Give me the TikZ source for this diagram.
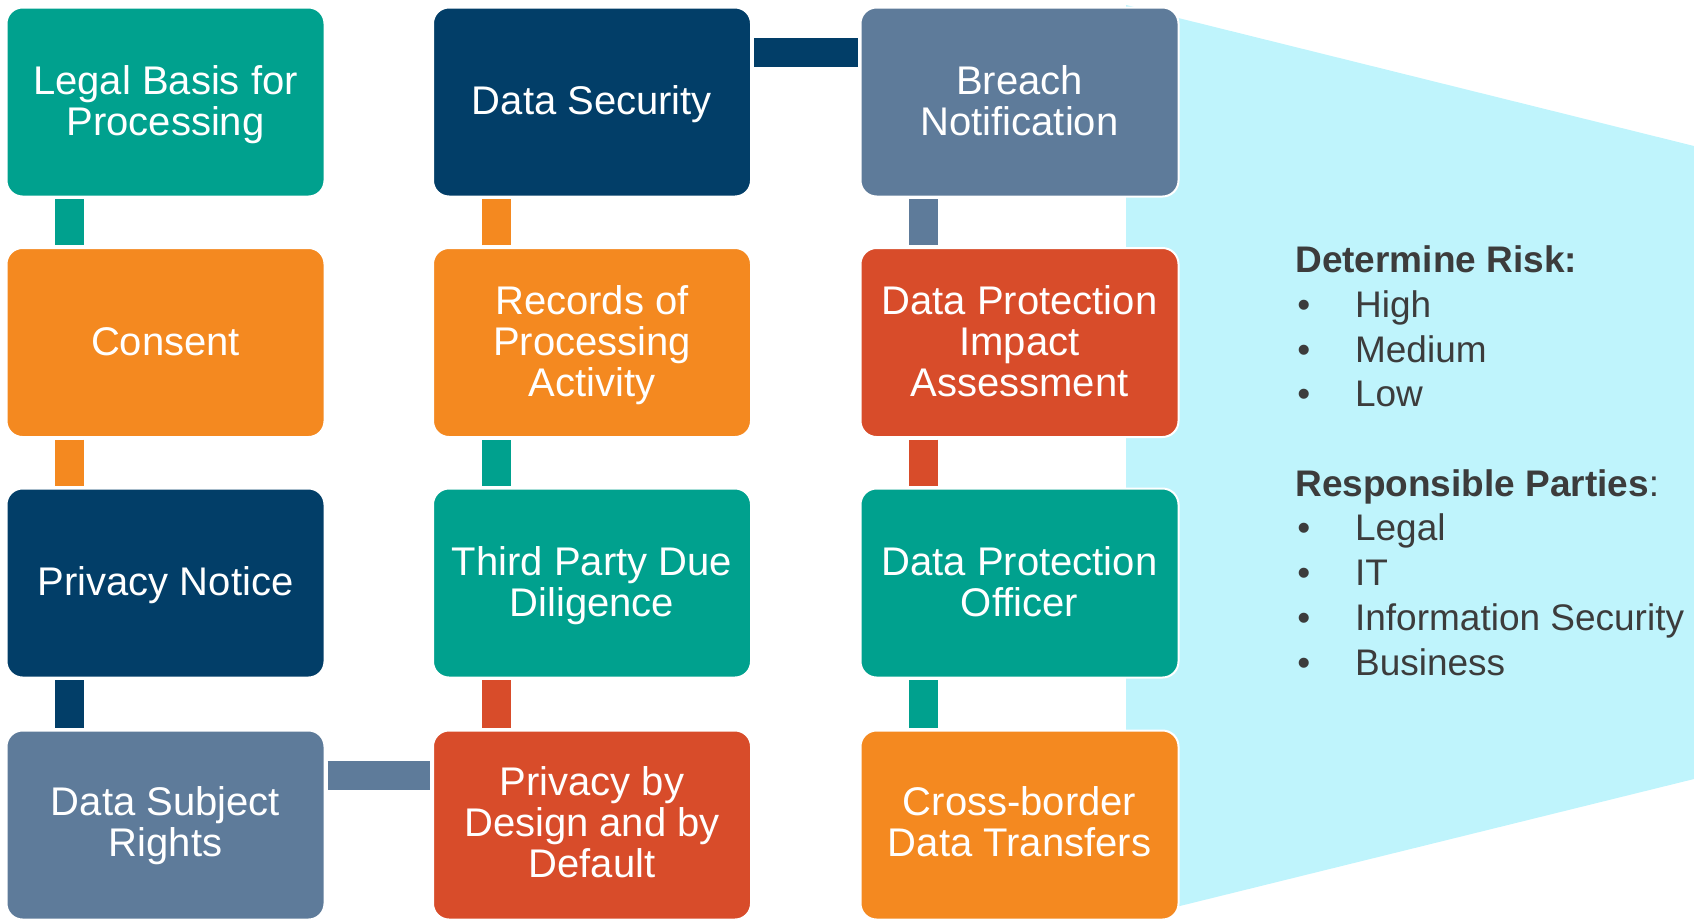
\documentclass[tikz,border=0pt]{standalone}
\usepackage{fontspec}
\setmainfont{Liberation Sans}
\usetikzlibrary{calc}

\definecolor{gteal}{RGB}{0,161,142}
\definecolor{gorange}{RGB}{244,137,32}
\definecolor{gnavy}{RGB}{2,62,104}
\definecolor{gslate}{RGB}{94,123,154}
\definecolor{gred}{RGB}{216,76,42}
\definecolor{gcyan}{RGB}{191,244,252}
\definecolor{gtext}{RGB}{60,60,60}

% one drawing unit = 0.75pt
\newdimen\unitpx \unitpx=0.75pt
\newcommand{\boxfont}{\fontsize{30pt}{30.75pt}\selectfont}
% centred label whose first baseline sits #1 units above the box centre
\newcommand{\boxlabel}[2]{\raisebox{#1\unitpx}[0pt][0pt]{\parbox[t]{310\unitpx}{\centering\boxfont #2}}}
\newcommand{\bul}{\makebox[57.8\unitpx][l]{•}}

\begin{document}
\begin{tikzpicture}[x=0.75pt,y=-0.75pt,
  gbox/.style={rectangle, rounded corners=12pt, minimum width=238.5pt,
    minimum height=141.75pt, inner sep=0pt, outer sep=0pt,
    draw=white, line width=1.5pt, text=white},
  conn/.style={line width=21.75pt},
  rtext/.style={anchor=base west, inner sep=0pt, text=gtext,
    font=\fontsize{27.75pt}{33.5pt}\selectfont}]
\useasboundingbox (0,0) rectangle (1694,918);
\clip (0,0) rectangle (1694,918);

% pale callout panel behind the right column
\fill[gcyan] (1126,5) -- (1694,146) -- (1694,779) -- (1126,919.3) -- cycle;

% column 1
\node[gbox, fill=gteal]   (legal)   at (165.5,102)   {\boxlabel{7.7}{Legal Basis for\\Processing}};
\node[gbox, fill=gorange] (consent) at (165.5,342.5) {\boxlabel{-12.8}{Consent}};
\node[gbox, fill=gnavy]   (notice)  at (165.5,583)   {\boxlabel{-12.8}{Privacy Notice}};
\node[gbox, fill=gslate]  (dsr)     at (165.5,825) {\boxlabel{9.2}{Data Subject\\Rights}};

% column 2
\node[gbox, fill=gnavy]   (sec)  at (592,102)   {\boxlabel{-12.8}{Data Security}};
\node[gbox, fill=gorange] (ropa) at (592,342.5) {\boxlabel{28.2}{Records of\\Processing\\Activity}};
\node[gbox, fill=gteal]   (tpdd) at (592,583)   {\boxlabel{7.7}{Third Party Due\\Diligence}};
\node[gbox, fill=gred]    (pbd)  at (592,825) {\boxlabel{29.7}{Privacy by\\Design and by\\Default}};

% column 3
\node[gbox, fill=gslate]  (breach)  at (1019.5,102)   {\boxlabel{7.7}{Breach\\Notification}};
\node[gbox, fill=gred]    (dpia)    at (1019.5,342.5) {\boxlabel{28.2}{Data Protection\\Impact\\Assessment}};
\node[gbox, fill=gteal]   (dpo)     at (1019.5,583)   {\boxlabel{7.7}{Data Protection\\Officer}};
\node[gbox, fill=gorange] (xborder) at (1019.5,825) {\boxlabel{9.2}{Cross-border\\Data Transfers}};

% connectors, each in the colour of the step it leaves
\draw[conn, gteal]   ($(legal.south west)+(63,2.7)$)   -- ($(consent.north west)+(63,-2.7)$);
\draw[conn, gorange] ($(consent.south west)+(63,2.7)$) -- ($(notice.north west)+(63,-2.7)$);
\draw[conn, gnavy]   ($(notice.south west)+(63,2.7)$)  -- ($(dsr.north west)+(63,-2.7)$);
\draw[conn, gslate]  ($(dsr.north east)+(3,45)$)       -- ($(pbd.north west)+(-3,45)$);
\draw[conn, gred]    ($(pbd.north west)+(63,-2.7)$)    -- ($(tpdd.south west)+(63,2.7)$);
\draw[conn, gteal]   ($(tpdd.north west)+(63,-2.7)$)   -- ($(ropa.south west)+(63,2.7)$);
\draw[conn, gorange] ($(ropa.north west)+(63,-2.7)$)   -- ($(sec.south west)+(63,2.7)$);
\draw[conn, gnavy]   ($(sec.north east)+(3,45.25)$)    -- ($(breach.north west)+(-3,45.25)$);
\draw[conn, gslate]  ($(breach.south west)+(63,2.7)$)  -- ($(dpia.north west)+(63,-2.7)$);
\draw[conn, gred]    ($(dpia.south west)+(63,2.7)$)    -- ($(dpo.north west)+(63,-2.7)$);
\draw[conn, gteal]   ($(dpo.south west)+(63,2.7)$)     -- ($(xborder.north west)+(63,-2.7)$);

% risk and ownership notes
\node[rtext] (riskhead) at (1295,272.7) {\textbf{Determine Risk:}};
\node[rtext] (riskhigh) at (1297,317.4) {\bul High};
\node[rtext] (riskmed)  at (1297,362.1) {\bul Medium};
\node[rtext] (risklow)  at (1297,406.8) {\bul Low};
\node[rtext] (partyhead)  at (1295,496.2) {\textbf{Responsible Parties}:};
\node[rtext] (partylegal) at (1297,540.9) {\bul Legal};
\node[rtext] (partyit)    at (1297,585.6) {\bul IT};
\node[rtext] (partyinfo)  at (1297,630.3) {\bul Information Security};
\node[rtext] (partybiz)   at (1297,675)   {\bul Business};
\end{tikzpicture}
\end{document}
